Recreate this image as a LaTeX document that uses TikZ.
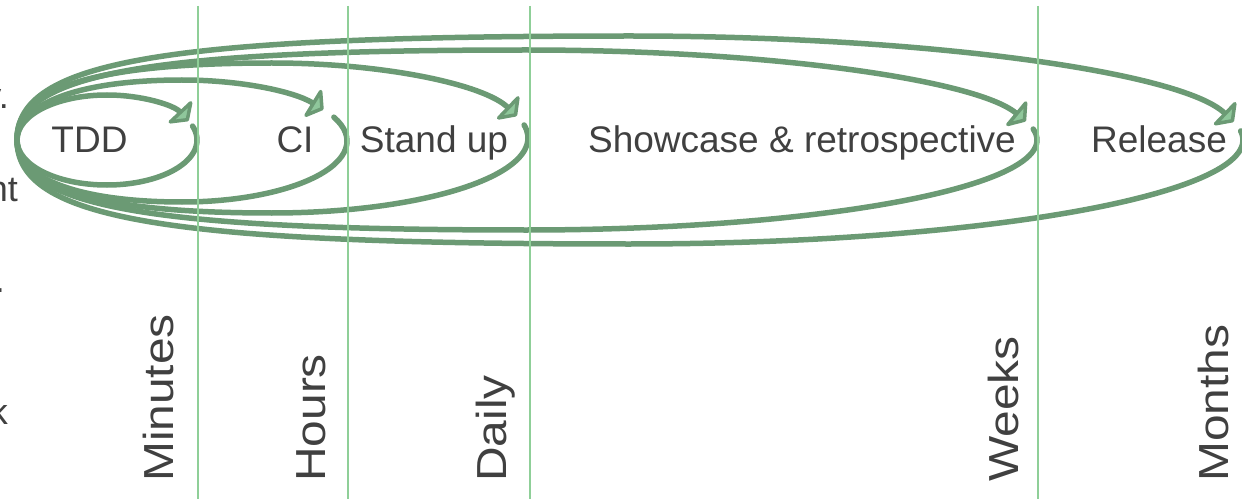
\documentclass[tikz,border=0pt]{standalone}
\usepackage{fontspec}
\setmainfont{Liberation Sans}
\usepackage{graphicx}
\usetikzlibrary{arrows.meta}
\definecolor{loopgreen}{HTML}{6B9A74}
\definecolor{tipfill}{HTML}{8FC79B}
\definecolor{gridgreen}{HTML}{8FCF98}
\definecolor{txt}{HTML}{404040}
% #1 xl, #2 xm, #3 xr, #4 centre Y, #5 top half height, #6 bottom half height, #7 left kappa, #8 start angle, #9 tip angle
\newcommand{\fbloop}[9]{%
  \draw[loopline] ({#2+(#3-#2)*cos(#8)},{#4+#6*sin(#8)})
    arc[start angle=#8,end angle=-90,x radius={#3-#2},y radius=#6]
    .. controls ({#2-#7*(#2-#1)},{#4-#6}) and ({#1},{#4-#7*#6}) .. ({#1},{#4})
    .. controls ({#1},{#4+#7*#5}) and ({#2-#7*(#2-#1)},{#4+#5}) .. ({#2},{#4+#5})
    arc[start angle=90,end angle=#9,x radius={#3-#2},y radius=#5];}
\begin{document}
\begin{tikzpicture}[x=1pt,y=1pt,
  loopline/.style={draw=loopgreen, line width=5.5pt, line cap=round, line join=round,
    -{Triangle[width=38pt 0,length=14pt 0,line width=4.5pt,fill=tipfill,round]}},
  gridline/.style={draw=gridgreen, line width=1.5pt},
  lbl/.style={text=txt, inner sep=0pt, font=\fontsize{37}{40}\selectfont, anchor=base},
  vlbl/.style={text=txt, inner sep=0pt, font=\fontsize{42}{44}\selectfont, rotate=90, anchor=base west},
  frag/.style={text=txt, inner sep=0pt, font=\fontsize{36}{40}\selectfont, anchor=base east}]
\useasboundingbox (0,0) rectangle (1242,499);

% feedback loops
\fbloop{17}{107}{197}{359}{45}{45}{0.56}{18}{25}
\fbloop{17}{182}{347}{358}{61}{61}{0.62}{23}{31}
\fbloop{17}{272}{528}{361}{75}{75}{0.68}{10}{17}
\fbloop{17}{527}{1037}{359}{90}{90}{0.74}{7}{12}
\fbloop{17}{630}{1243}{359}{104}{104}{0.76}{5}{10}

% time scale lines
\coordinate (g1t) at (198,493); \coordinate (g1b) at (198,0);
\coordinate (g2t) at (348,493); \coordinate (g2b) at (348,0);
\coordinate (g3t) at (530,493); \coordinate (g3b) at (530,0);
\coordinate (g4t) at (1038,493); \coordinate (g4b) at (1038,0);
\draw[gridline] (g1t) -- (g1b);
\draw[gridline] (g2t) -- (g2b);
\draw[gridline] (g3t) -- (g3b);
\draw[gridline] (g4t) -- (g4b);

% loop labels
\node[lbl] (tdd) at (89.5,346) {TDD};
\node[lbl] (ci) at (295,346) {CI};
\node[lbl] (standup) at (434,346) {Stand up};
\node[lbl] (showcase) at (802,346) {Showcase \& retrospective};
\node[lbl] (release) at (1159,346) {Release};

% time scale labels
\node[vlbl] (minutes) at (173,17) {\scalebox{1.14}[1]{Minutes}};
\node[vlbl] (hours) at (325,17) {\scalebox{1.14}[1]{Hours}};
\node[vlbl] (daily) at (506,17) {\scalebox{1.14}[1]{Daily}};
\node[vlbl] (weeks) at (1018,17) {\scalebox{1.14}[1]{Weeks}};
\node[vlbl] (months) at (1228,17) {\scalebox{1.14}[1]{Months}};

% cut-off text at the left edge
\node[frag] (f1) at (9,390) {y.};
\node[frag] (f2) at (18,298) {nt};
\node[frag] (f3) at (5,207) {.};
\node[frag] (f4) at (8,75) {k};
\end{tikzpicture}
\end{document}
